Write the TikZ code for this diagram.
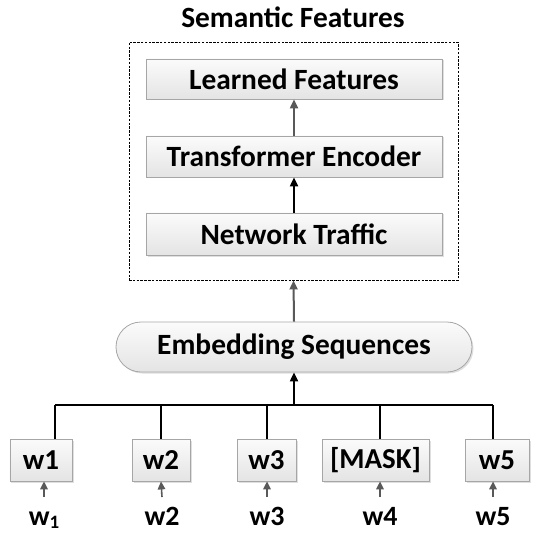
\documentclass[tikz,border=0pt]{standalone}
\usepackage{fontspec}
\setmainfont{Carlito}
\usetikzlibrary{arrows.meta,shadows,calc}
\definecolor{boxline}{HTML}{A6A6A6}
\definecolor{boxtop}{HTML}{FBFBFB}
\definecolor{boxbot}{HTML}{E4E4E4}
\definecolor{darrow}{HTML}{595959}
\newcommand{\lowidx}[1]{\raisebox{-0.12em}{\fontsize{19}{22}\selectfont #1}}
\tikzset{
  x=1bp, y=-1bp,
  panel/.style={draw=boxline, line width=0.8bp, top color=boxtop, bottom color=boxbot,
    inner sep=0pt, font=\bfseries\fontsize{29.5}{34}\selectfont,
    drop shadow={shadow xshift=1.5bp, shadow yshift=-1.5bp, opacity=0.25}},
  token/.style={panel, font=\bfseries\fontsize{29}{34}\selectfont, minimum height=42bp},
  pill/.style={panel, rounded corners=25bp},
  blackarrow/.style={line width=2bp, -{Triangle[length=9bp,width=8bp]}},
  grayarrow/.style={draw=darrow, line width=2bp, -{Triangle[length=9bp,width=8bp]}, darrow},
  thinarrow/.style={draw=darrow, line width=1.6bp, -{Triangle[length=8bp,width=7.5bp]}, darrow},
  busline/.style={line width=2bp},
  label/.style={font=\bfseries\fontsize{28}{32}\selectfont, inner sep=0pt, anchor=base}
}
\begin{document}
\begin{tikzpicture}
\useasboundingbox (0,0) rectangle (545,533);

% title and dashed frame
\node[font=\bfseries\fontsize{29.5}{34}\selectfont, anchor=base] (title) at (293,28) {Semantic Features};
\node[draw, dash pattern=on 2.5bp off 1.3bp, line width=0.9bp, minimum width=329bp, minimum height=238bp, inner sep=0pt] (frame) at (293.5,161) {};

% stacked feature boxes
\node[panel, minimum width=296bp, minimum height=40bp] (learned) at (294,79) {Learned Features};
\node[panel, minimum width=296bp, minimum height=41bp] (encoder) at (294,156.5) {Transformer Encoder};
\node[panel, minimum width=296bp, minimum height=42bp] (traffic) at (294,234) {Network Traffic};

\draw[grayarrow] (encoder.north) -- (learned.south);
\draw[blackarrow] (traffic.north) -- (encoder.south);

% embedding layer
\node[pill, minimum width=356bp, minimum height=50bp] (embed) at (294,347) {Embedding Sequences};
\draw[grayarrow] (embed.north) -- (frame.south);

% token boxes
\node[token, minimum width=62bp] (w1) at (41,460) {w1};
\node[token, minimum width=58bp] (w2) at (161,460) {w2};
\node[token, minimum width=59bp] (w3) at (266.5,460) {w3};
\node[token, minimum width=107bp] (mask) at (375.5,460) {[MASK]};
\node[token, minimum width=64bp] (w5) at (497,460) {w5};

% bus joining the tokens
\coordinate (busL) at (55,405);
\coordinate (busR) at (493,405);
\coordinate (busM) at (294,405);
\draw[busline] (busL) -- (busR);
\draw[busline] (busL) -- (busL |- w1.north);
\draw[busline] (w2.north |- busL) -- (w2.north);
\draw[busline] (w3.north |- busL) -- (w3.north);
\draw[busline] ([xshift=4.5bp]mask.north |- busL) -- ([xshift=4.5bp]mask.north);
\draw[busline] (busR) -- (busR |- w5.north);
\draw[blackarrow] (busM) -- (embed.south);

% input words
\node[label] (i1) at (44,525) {w\lowidx{1}};
\node[label] (i2) at (162,525) {w2};
\node[label] (i3) at (267,525) {w3};
\node[label] (i4) at (380,525) {w4};
\node[label] (i5) at (493,525) {w5};

\draw[thinarrow] (i1.north |- 0,497) -- (i1.north |- w1.south);
\draw[thinarrow] (i2.north |- 0,497) -- (w2.south);
\draw[thinarrow] (i3.north |- 0,497) -- (i3.north |- w3.south);
\draw[thinarrow] (i4.north |- 0,497) -- (i4.north |- mask.south);
\draw[thinarrow] (i5.north |- 0,497) -- (i5.north |- w5.south);
\end{tikzpicture}
\end{document}
